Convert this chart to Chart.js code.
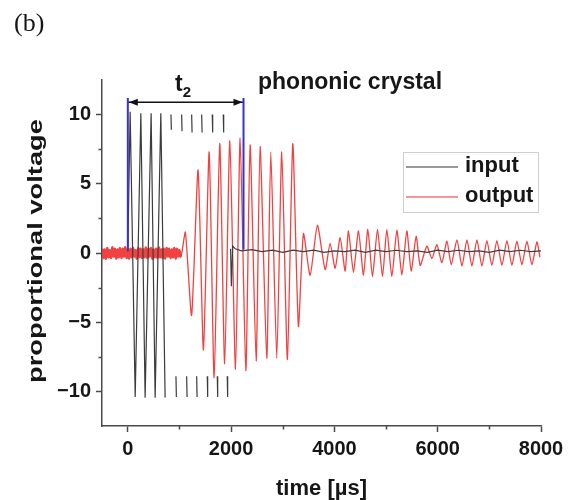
<!DOCTYPE html>
<html><head><meta charset="utf-8">
<script src="https://cdn.jsdelivr.net/npm/chart.js@4.4.1/dist/chart.umd.min.js"></script>
<style>html,body{margin:0;padding:0;background:#fff}#wrap{width:576px;height:500px;position:relative}</style>
</head><body><div id="wrap"><canvas id="c" width="576" height="500"></canvas></div>
<script>
// ---------- DATA ----------
const xTicks = [0, 2000, 4000, 6000, 8000];
const yTicks = [-10, -5, 0, 5, 10];
const xMinorTicks = [1000, 3000, 5000, 7000];
const yMinorTicks = [-7.5, -2.5, 2.5, 7.5];
const seriesNames = ['input', 'output'];

// input signal (time in µs, proportional voltage); null = gap
const inputTime = [0,45,143,252,335,451,529,639,722,780,
  835,843,885,932,940,990,1042,1050,1090,1139,1147,1190,1236,1244,1290,1333,1341,1390,
  1430,1438,1490,1538,1546,1590,1635,1643,1690,1732,1740,1790,1848,1856,1890,1925,1933,1960,
  1990,2005,2030,2080,2200,2400,2600,2800,3000,3200,3400,3600,3800,4000,4200,4400,4600,4800,
  5000,5200,5400,5600,5800,6000,6200,6400,6600,6800,7000,7200,7400,7600,7800,8000];
const inputVolt = [0.1,10.2,-10.4,10.1,-10.45,10.1,-10.45,10.1,-10.45,null,
  10.0,8.9,null,-8.9,-10.4,null,10.0,8.8,null,-8.9,-10.4,null,10.0,8.7,null,-8.9,-10.4,null,
  10.0,8.7,null,-8.9,-10.4,null,10.0,8.7,null,-8.9,-10.4,null,10.0,8.7,null,-8.9,-10.4,null,
  0.3,-2.4,0.5,0.3,0.15,0.25,0.1,0.2,0.05,0.2,0.1,0.2,0.05,0.15,0.1,0.2,0.05,0.2,
  0.1,0.2,0.1,0.15,0.05,0.2,0.1,0.2,0.1,0.15,0.05,0.2,0.1,0.2,0.1,0.15];

// output signal
const outputTime = [-500,-475,-450,-425,-400,-375,-350,-325,-300,-275,-250,-225,-200,-175,-150,-125,-100,-75,-50,-25,
  0,25,50,75,100,125,150,175,200,225,250,275,300,325,350,375,400,425,450,475,500,525,550,575,600,625,650,675,700,725,
  750,775,800,825,850,875,900,925,950,975,1000,1025,
  1050,1115,1235,1360,1464,1575,1671,1780,1875,1975,2085,2175,2285,2368,2484,2561,2690,2768,2884,2981,3090,3194,3303,
  3400,3530,3671,3820,3917,4014,4111,4208,4272,4369,4466,4563,4647,4737,4834,4931,5015,5112,5209,5306,5402,5486,5583,5661,
  5790,5887,5984,6081,6178,6262,6372,6469,6566,6662,6759,6856,6952,7049,7146,7243,7340,7437,7533,7630,7727,7824,7920,7980];
const outputVolt = [0.30,-0.35,0.25,-0.40,0.35,-0.30,0.20,-0.35,0.40,-0.25,0.30,-0.40,0.25,-0.30,0.35,-0.35,0.30,-0.25,0.40,-0.35,
  0.25,-0.40,0.30,-0.30,0.35,-0.25,0.20,-0.40,0.35,-0.30,0.30,-0.35,0.25,-0.30,0.40,-0.35,0.30,-0.25,0.35,-0.40,0.25,-0.30,0.30,-0.35,0.40,-0.30,0.25,-0.35,0.30,-0.40,
  0.35,-0.25,0.30,-0.35,0.25,-0.30,0.35,-0.40,0.30,-0.25,0.20,-0.30,
  0.1,1.5,-4.5,6.0,-7.0,7.3,-9.0,7.9,-8.0,8.1,-8.4,8.3,-8.5,7.8,-7.8,7.7,-7.6,7.3,-7.6,7.3,-7.7,7.9,-5.3,
  1.4,-1.6,2.0,-1.2,0.7,-1.1,1.1,-1.3,1.6,-1.4,1.6,-1.6,1.7,-1.7,1.7,-1.7,1.7,-1.7,1.65,-1.6,1.6,-1.3,1.2,-0.9,
  0.5,-0.4,0.6,-0.7,0.85,-0.85,0.95,-0.95,0.95,-0.95,0.95,-0.95,0.9,-0.9,0.9,-0.9,0.9,-0.9,0.85,-0.85,0.85,-0.85,0.8,-0.3];

// t2 annotation (data units)
const t2Start = 0, t2End = 2240, t2Top = 11.2, t2ArrowY = 10.9, t2LeftBase = 0.2, t2RightBase = 0.25;
const noiseEnd = 1040; // end of pre-arrival noise band (µs)

// ---------- CHART ----------
const FONT = '"Liberation Sans", Arial, sans-serif';
const INK = '#161616';
const AXIS = '#4a4a4a';
const pts = (xs, ys) => xs.map((x, i) => ({x, y: ys[i]}));
const fmt = v => v < 0 ? '\u2212' + Math.abs(v) : String(v);

const decor = {
  id: 'decor',
  afterDraw(chart) {
    const c = chart.ctx, xs = chart.scales.x, ys = chart.scales.y;
    c.save();
    // minor ticks
    c.strokeStyle = AXIS; c.lineWidth = 1.5;
    const ab = chart.chartArea.bottom, al = chart.chartArea.left;
    xMinorTicks.forEach(v => { const p = Math.round(xs.getPixelForValue(v)) + 0.5; c.beginPath(); c.moveTo(p, ab); c.lineTo(p, ab + 3.5); c.stroke(); });
    yMinorTicks.forEach(v => { const p = Math.round(ys.getPixelForValue(v)) + 0.5; c.beginPath(); c.moveTo(al, p); c.lineTo(al - 3.5, p); c.stroke(); });
    // arrow heads
    const ax1 = xs.getPixelForValue(t2Start), ax2 = xs.getPixelForValue(t2End), ay = ys.getPixelForValue(t2ArrowY);
    c.fillStyle = '#111';
    c.beginPath(); c.moveTo(ax1 + 1, ay); c.lineTo(ax1 + 10, ay - 3.5); c.lineTo(ax1 + 10, ay + 3.5); c.closePath(); c.fill();
    c.beginPath(); c.moveTo(ax2 - 1, ay); c.lineTo(ax2 - 10, ay - 3.5); c.lineTo(ax2 - 10, ay + 3.5); c.closePath(); c.fill();
    // t2 label
    const mid = (ax1 + ax2) / 2 - 4;
    c.fillStyle = INK; c.textBaseline = 'alphabetic';
    c.font = 'bold 23px ' + FONT; c.textAlign = 'right'; c.fillText('t', mid + 1, 91);
    c.font = 'bold 15px ' + FONT; c.textAlign = 'left'; c.fillText('2', mid + 1, 97);
    // phononic crystal
    c.font = 'bold 23px ' + FONT; c.textAlign = 'left';
    c.fillText('phononic crystal', 258, 89);
    // panel label
    c.font = '26px "Liberation Serif", "Times New Roman", serif';
    c.fillText('(b)', 14, 31);
    // y title
    c.save();
    c.translate(36, 251); c.rotate(-Math.PI / 2); c.scale(1.3, 1);
    c.font = 'bold 21px ' + FONT; c.textAlign = 'center'; c.textBaseline = 'middle';
    c.fillText('proportional voltage', 0, 0);
    c.restore();
    // legend
    c.strokeStyle = '#cfcfcf'; c.lineWidth = 1;
    c.strokeRect(403.5, 152.5, 135, 60);
    const ds = chart.data.datasets;
    [0, 1].forEach((k, i) => {
      const y = 167 + i * 30;
      c.strokeStyle = k === 0 ? '#777' : 'rgba(235,90,95,0.85)'; c.lineWidth = 1.5;
      c.beginPath(); c.moveTo(406, y); c.lineTo(458, y); c.stroke();
      c.fillStyle = INK; c.font = 'bold 22px ' + FONT; c.textAlign = 'left'; c.textBaseline = 'middle';
      c.fillText(ds[k].label, 465, y - 1);
    });
    c.restore();
  }
};

const tickFont = {family: FONT, size: 20, weight: 'bold'};
new Chart(document.getElementById('c'), {
  type: 'line',
  data: {datasets: [
    {label: seriesNames[0], data: pts(inputTime, inputVolt), borderColor: '#3c3c3c', borderWidth: 1.2, pointRadius: 0, tension: 0, spanGaps: false, order: 1},
    {label: seriesNames[1], data: pts(outputTime, outputVolt), borderColor: 'rgba(240,45,45,0.9)', borderWidth: 1.3, pointRadius: 0, tension: 0.2, order: 2,
      segment: {borderWidth: ctx => ctx.p1.parsed.x <= noiseEnd ? 2.6 : 1.3}},
    {label: 'edgeL', data: [{x: t2Start, y: t2LeftBase}, {x: t2Start, y: t2Top}], borderColor: '#3434d4', borderWidth: 2, pointRadius: 0, order: 0},
    {label: 'edgeR', data: [{x: t2End, y: t2Top}, {x: t2End, y: t2RightBase}], borderColor: '#3434d4', borderWidth: 2, pointRadius: 0, order: 0},
    {label: 'span', data: [{x: t2Start, y: t2ArrowY}, {x: t2End, y: t2ArrowY}], borderColor: '#111', borderWidth: 1.5, pointRadius: 0, order: 0}
  ]},
  options: {
    responsive: false, animation: false, events: [],
    layout: {padding: {top: 80, right: 35, left: 0, bottom: 0}},
    plugins: {legend: {display: false}, tooltip: {enabled: false}, title: {display: false}},
    scales: {
      x: {
        type: 'linear', min: -500, max: 8000,
        afterBuildTicks: s => { s.ticks = xTicks.map(v => ({value: v})); },
        afterFit: s => { s.height = 74; },
        border: {display: true, color: AXIS, width: 1.5},
        grid: {drawOnChartArea: false, drawTicks: true, tickLength: 6, tickColor: AXIS, tickWidth: 1.5},
        ticks: {font: tickFont, color: INK, padding: 5, maxRotation: 0, autoSkip: false, callback: v => fmt(v)},
        title: {display: true, text: 'time [µs]', font: {family: FONT, size: 22, weight: 'bold', lineHeight: 1}, color: INK, padding: {top: 4, bottom: 0}}
      },
      y: {
        type: 'linear', min: -12.5, max: 12.5,
        afterBuildTicks: s => { s.ticks = yTicks.map(v => ({value: v})); },
        afterFit: s => { s.width = 102; },
        border: {display: true, color: AXIS, width: 1.5},
        grid: {drawOnChartArea: false, drawTicks: true, tickLength: 6, tickColor: AXIS, tickWidth: 1.5},
        ticks: {font: tickFont, color: INK, padding: 5, autoSkip: false, callback: v => fmt(v)},
        title: {display: false}
      }
    }
  },
  plugins: [decor]
});
</script></body></html>
